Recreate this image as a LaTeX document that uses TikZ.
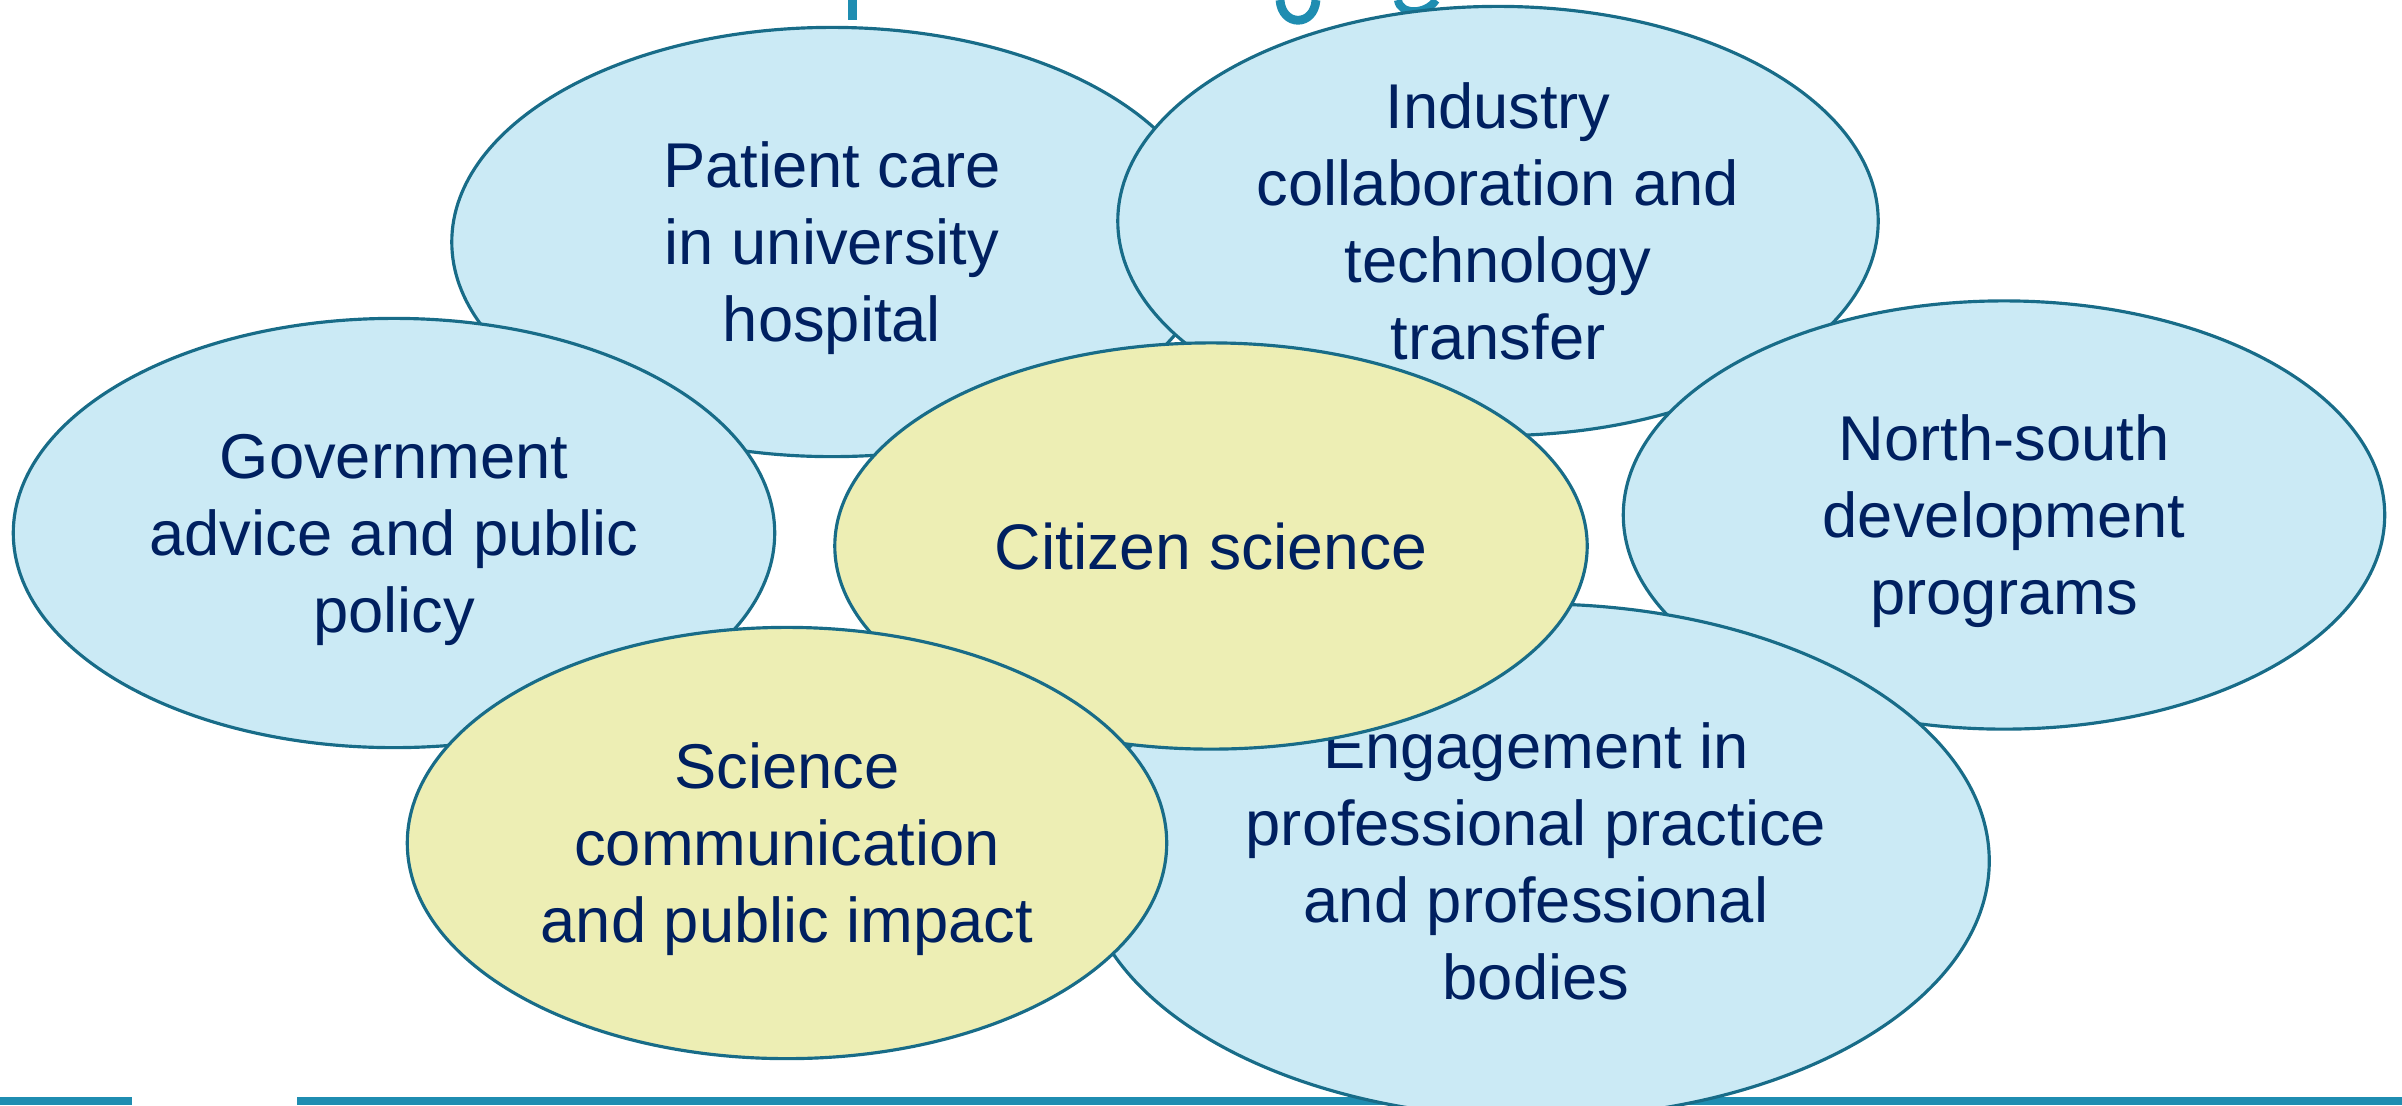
\documentclass[tikz,border=0pt]{standalone}
\usepackage{fontspec}
\setmainfont{Liberation Sans}
\usetikzlibrary{shapes.geometric}
\definecolor{bubbleblue}{RGB}{203,234,245}
\definecolor{bubbleyellow}{RGB}{237,238,180}
\definecolor{rimteal}{RGB}{24,108,136}
\definecolor{navytext}{RGB}{0,32,96}
\definecolor{barteal}{RGB}{31,141,177}

\begin{document}
\begin{tikzpicture}[x=0.01cm,y=-0.01cm,
    bubble/.style={ellipse,draw=rimteal,line width=0.9pt,fill=bubbleblue,inner sep=0pt,
      align=center,text=navytext,text depth=0pt,font=\fontsize{18}{21.9}\selectfont},
    focus/.style={bubble,fill=bubbleyellow}]
  \useasboundingbox (0,0) rectangle (2402,1105);
  % tails of the heading, cut off at the top edge
  \fill[barteal] (848,0) rectangle (857,20);
  \draw[barteal,line width=2.5pt] (1280,0) .. controls (1282,27) and (1314,27) .. (1316,0);
  \draw[barteal,line width=2.3pt] (1398,0) .. controls (1400,15) and (1426,15) .. (1436,0);
  % footer band
  \fill[barteal] (0,1097) rectangle (132,1105);
  \fill[barteal] (297,1097) rectangle (2402,1105);
  % bubbles, back to front
  \node[bubble,minimum width=7.6cm,minimum height=4.29cm] (patient) at (832,242) {Patient care\\ in university\\ hospital};
  \node[bubble,minimum width=7.6cm,minimum height=4.29cm] (industry) at (1498,221) {Industry\\ collaboration and\\ technology\\ transfer};
  \node[bubble,minimum width=7.61cm,minimum height=4.29cm] (government) at (394,533) {Government\\ advice and public\\ policy};
  \node[bubble,minimum width=7.61cm,minimum height=4.28cm] (northsouth) at (2004,515) {North-south\\ development\\ programs};
  \node[bubble,minimum width=9.06cm,minimum height=5.14cm] (engagement) at (1536,861) {Engagement in\\ professional practice\\ and professional\\ bodies};
  \node[focus,minimum width=7.52cm,minimum height=4.06cm,font=\fontsize{18.3}{22}\selectfont] (citizen) at (1211,546) {Citizen science};
  \node[focus,minimum width=7.59cm,minimum height=4.31cm] (scicomm) at (787,843) {Science\\ communication\\ and public impact};
\end{tikzpicture}
\end{document}
